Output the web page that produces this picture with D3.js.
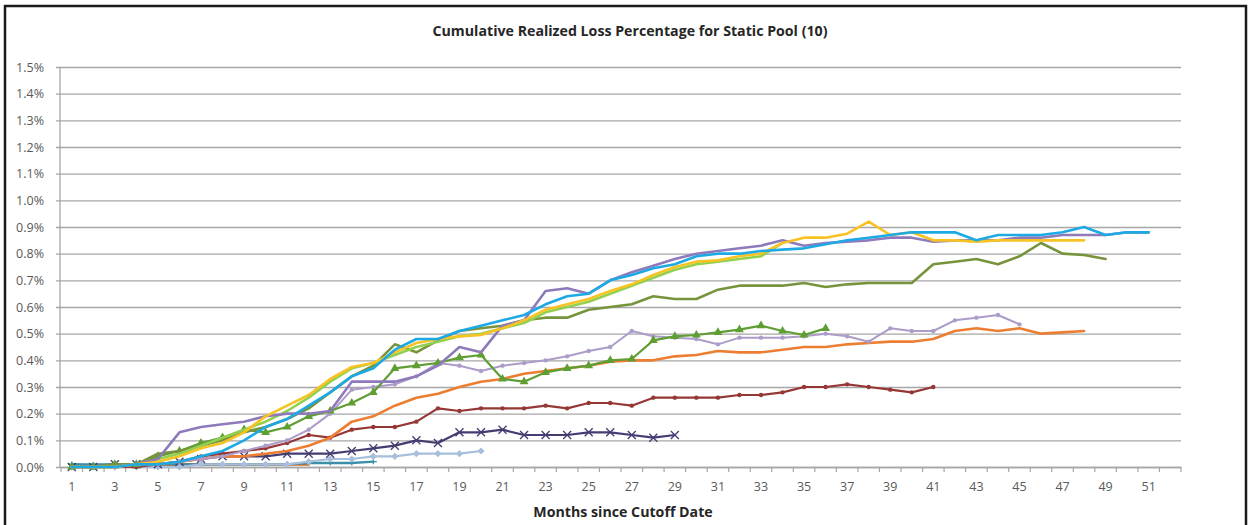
<!DOCTYPE html>
<html>
<head>
<meta charset="utf-8">
<script src="https://cdn.jsdelivr.net/npm/d3@7"></script>
<style>
  html, body { margin: 0; padding: 0; background: #fff; }
  svg { display: block; }
</style>
</head>
<body>
<script>
// ---------- DATA (values in %) ----------
const months = d3.range(1, 53);            // category axis 1..52
const xTickLabels = d3.range(1, 52, 2);    // 1,3,...,51
const yTicks = d3.range(0, 16).map(d => d / 10);

const blue = [0,0,0,0.01,0.01,0.02,0.04,0.06,0.10,0.15,0.18,0.23,0.28,0.34,0.37,0.44,0.48,0.48,0.51,0.53,0.55,0.57,0.61,0.64,0.65,0.70,0.72,0.745,0.76,0.79,0.80,0.80,0.81,0.815,0.82,0.835,0.85,0.86,0.87,0.88,0.88,0.88,0.85,0.87,0.87,0.87,0.88,0.90,0.87,0.88,0.88];
const yellow = [0,0,0,0.01,0.02,0.04,0.07,0.09,0.13,0.19,0.23,0.27,0.33,0.375,0.39,0.43,0.465,0.48,0.49,0.495,0.52,0.55,0.59,0.61,0.63,0.66,0.685,0.72,0.75,0.77,0.775,0.79,0.80,0.84,0.86,0.86,0.875,0.92,0.87,0.88,0.85,0.85,0.845,0.85,0.85,0.85,0.85,0.85];
const lime = [0,0,0,0.01,0.03,0.05,0.08,0.11,0.14,0.17,0.21,0.26,0.32,0.37,0.39,0.42,0.45,0.47,0.49,0.50,0.52,0.54,0.58,0.60,0.62,0.65,0.68,0.71,0.74,0.76,0.77,0.78,0.79,0.84];
const purple = [0,0,0,0.01,0.03,0.13,0.15,0.16,0.17,0.19,0.20,0.20,0.21,0.32,0.32,0.32,0.34,0.38,0.45,0.43,0.53,0.55,0.66,0.67,0.65,0.70,0.73,0.755,0.78,0.80,0.81,0.82,0.83,0.85,0.83,0.84,0.845,0.85,0.86,0.86,0.845,0.85,0.85,0.85,0.86,0.86,0.87,0.87,0.87,0.88,0.88];
const olive = [0,0,0.01,0.01,0.05,0.06,0.08,0.10,0.13,0.15,0.18,0.22,0.28,0.34,0.38,0.46,0.43,0.475,0.51,0.52,0.53,0.55,0.56,0.56,0.59,0.60,0.61,0.64,0.63,0.63,0.665,0.68,0.68,0.68,0.69,0.675,0.685,0.69,0.69,0.69,0.76,0.77,0.78,0.76,0.79,0.84,0.80,0.795,0.78];
const greenTri = [0,0,0.01,0.01,0.04,0.06,0.09,0.11,0.14,0.13,0.15,0.19,0.21,0.24,0.28,0.37,0.38,0.39,0.41,0.42,0.33,0.32,0.355,0.37,0.38,0.40,0.405,0.475,0.49,0.495,0.505,0.515,0.53,0.51,0.495,0.52];
const lavender = [0,0,0,0.01,0.01,0.02,0.03,0.04,0.06,0.08,0.10,0.14,0.20,0.29,0.30,0.31,0.34,0.39,0.38,0.36,0.38,0.39,0.40,0.415,0.435,0.45,0.51,0.49,0.485,0.48,0.46,0.485,0.485,0.485,0.49,0.50,0.49,0.47,0.52,0.51,0.51,0.55,0.56,0.57,0.535];
const orange = [0,0,0,0.01,0.01,0.02,0.03,0.04,0.04,0.05,0.06,0.08,0.11,0.17,0.19,0.23,0.26,0.275,0.30,0.32,0.33,0.35,0.36,0.37,0.38,0.395,0.40,0.40,0.415,0.42,0.435,0.43,0.43,0.44,0.45,0.45,0.46,0.465,0.47,0.47,0.48,0.51,0.52,0.51,0.52,0.50,0.505,0.51];
const darkRed = [0,0,0,0,0.01,0.02,0.04,0.05,0.06,0.07,0.09,0.12,0.11,0.14,0.15,0.15,0.17,0.22,0.21,0.22,0.22,0.22,0.23,0.22,0.24,0.24,0.23,0.26,0.26,0.26,0.26,0.27,0.27,0.28,0.30,0.30,0.31,0.30,0.29,0.28,0.30];
const navyX = [0,0,0.01,0.01,0.01,0.02,0.03,0.04,0.04,0.04,0.05,0.05,0.05,0.06,0.07,0.08,0.10,0.09,0.13,0.13,0.14,0.12,0.12,0.12,0.13,0.13,0.12,0.11,0.12];
const steelDiamond = [0,0,0,0,0,0,0.01,0.01,0.01,0.01,0.01,0.02,0.03,0.03,0.04,0.04,0.05,0.05,0.05,0.06];
const teal = [0.01,0.01,0.01,0.01,0.01,0.01,0.01,0.01,0.01,0.01,0.01,0.015,0.015,0.015,0.02];
const darkOrange = [0,0,0.005,0.005,0.01,0.01,0.01,0.01,0.01,0.01,0.01,0.01];
const darkBlue = [0.01,0.005,0.01,0.01,0.01,0.01,0.01,0.01,0.01,0.01];
const red = [0.005,0,0.01];

const titleText = "Cumulative Realized Loss Percentage for Static Pool (10)";
const xTitleText = "Months since Cutoff Date";

// ---------- SERIES STYLE TABLE (drawing order) ----------
const series = [
  { v: red,          color: "#C0504D", w: 2.2, marker: null },
  { v: darkBlue,     color: "#2E5C8A", w: 2.2, marker: "dash" },
  { v: darkOrange,   color: "#E46C0A", w: 2.6, marker: null },
  { v: teal,         color: "#3B8FA8", w: 2.4, marker: "dash" },
  { v: steelDiamond, color: "#A7BEDC", w: 2.2, marker: "diamond" },
  { v: navyX,        color: "#433D72", w: 2.2, marker: "x" },
  { v: darkRed,      color: "#953735", w: 2.2, marker: "dot" },
  { v: orange,       color: "#ED7D31", w: 2.6, marker: null },
  { v: lavender,     color: "#AC9CC9", w: 2.0, marker: "dot" },
  { v: greenTri,     color: "#5E9E32", w: 2.2, marker: "triangle" },
  { v: olive,        color: "#77933C", w: 2.6, marker: null },
  { v: lime,         color: "#92D050", w: 2.6, marker: null },
  { v: purple,       color: "#8E7ABB", w: 2.6, marker: null },
  { v: yellow,       color: "#F7C324", w: 2.6, marker: null },
  { v: blue,         color: "#1DAAE4", w: 2.6, marker: null }
];

// ---------- LAYOUT ----------
const W = 1251, H = 525;
const plot = { left: 61, right: 1181, top: 67, bottom: 467 };

const svg = d3.select("body").append("svg").attr("width", W).attr("height", H);

svg.append("rect").attr("x", 5).attr("y", 6).attr("width", 1241).attr("height", 540)
  .attr("fill", "#fff").attr("stroke", "#1a1a1a").attr("stroke-width", 2.5);

const x = d3.scaleBand().domain(months).range([plot.left, plot.right]).padding(0);
const xc = m => x(m) + x.bandwidth() / 2;
const y = d3.scaleLinear().domain([0, 1.5]).range([plot.bottom, plot.top]);

const font = "'Open Sans', 'Liberation Sans', Arial, sans-serif";

// gridlines + y axis labels
const yAxis = d3.axisLeft(y).tickValues(yTicks)
  .tickFormat(d => d.toFixed(1) + "%")
  .tickSize(-(plot.right - plot.left)).tickPadding(17);
const gy = svg.append("g").attr("transform", `translate(${plot.left},0)`).call(yAxis);
gy.select(".domain").remove();
gy.selectAll(".tick line").attr("x1", -5).attr("stroke", "#A6A6A6").attr("stroke-width", 1.3);
gy.selectAll(".tick text").attr("fill", "#595959").style("font-family", font).style("font-size", "12.5px");

// y axis line
svg.append("line").attr("x1", plot.left - 1).attr("x2", plot.left - 1)
  .attr("y1", y(1.5)).attr("y2", y(0)).attr("stroke", "#A6A6A6").attr("stroke-width", 1.3);

// x axis
const xAxis = d3.axisBottom(x).tickValues(xTickLabels).tickSize(0).tickPadding(15);
const gx = svg.append("g").attr("transform", `translate(0,${plot.bottom})`).call(xAxis);
gx.select(".domain").attr("stroke", "#A6A6A6").attr("stroke-width", 1.3);
gx.selectAll(".tick text").attr("fill", "#595959").style("font-family", font).style("font-size", "12.5px");
// category boundary tick marks
const bounds = months.map(m => x(m)).concat([plot.right]);
svg.append("g").selectAll("line").data(bounds).join("line")
  .attr("x1", d => d).attr("x2", d => d)
  .attr("y1", plot.bottom).attr("y2", plot.bottom + 5)
  .attr("stroke", "#A6A6A6").attr("stroke-width", 1.2);

// lines
const line = d3.line().x((d, i) => xc(months[i])).y(d => y(d));
const gl = svg.append("g");
series.forEach(s => {
  gl.append("path").datum(s.v).attr("d", line)
    .attr("fill", "none").attr("stroke", s.color).attr("stroke-width", s.w)
    .attr("stroke-linejoin", "round").attr("stroke-linecap", "round");
  if (!s.marker) return;
  const pts = s.v.map((v, i) => [xc(months[i]), y(v)]);
  const g = gl.append("g");
  if (s.marker === "dot") {
    g.selectAll("circle").data(pts).join("circle")
      .attr("cx", d => d[0]).attr("cy", d => d[1]).attr("r", 2.2).attr("fill", s.color);
  } else if (s.marker === "triangle") {
    g.selectAll("path").data(pts).join("path")
      .attr("transform", d => `translate(${d[0]},${d[1]})`)
      .attr("d", d3.symbol(d3.symbolTriangle, 34)).attr("fill", s.color);
  } else if (s.marker === "diamond") {
    g.selectAll("path").data(pts).join("path")
      .attr("transform", d => `translate(${d[0]},${d[1]}) rotate(45)`)
      .attr("d", d3.symbol(d3.symbolSquare, 26)).attr("fill", s.color);
  } else if (s.marker === "x") {
    g.selectAll("path").data(pts).join("path")
      .attr("transform", d => `translate(${d[0]},${d[1]})`)
      .attr("d", "M-4,-4L4,4M-4,4L4,-4").attr("stroke", s.color).attr("stroke-width", 1.3);
  } else if (s.marker === "dash") {
    g.selectAll("path").data(pts).join("path")
      .attr("transform", d => `translate(${d[0]},${d[1]})`)
      .attr("d", "M-3.5,0L3.5,0M0,-2.5L0,2.5").attr("stroke", s.color).attr("stroke-width", 1.2);
  }
});

// titles
svg.append("text").attr("x", 630).attr("y", 36).attr("text-anchor", "middle")
  .style("font-family", font).style("font-size", "14.2px").style("font-weight", "bold")
  .attr("fill", "#262626").text(titleText);
svg.append("text").attr("x", 623).attr("y", 517).attr("text-anchor", "middle")
  .style("font-family", font).style("font-size", "14.2px").style("font-weight", "bold")
  .attr("fill", "#262626").text(xTitleText);
</script>
</body>
</html>
